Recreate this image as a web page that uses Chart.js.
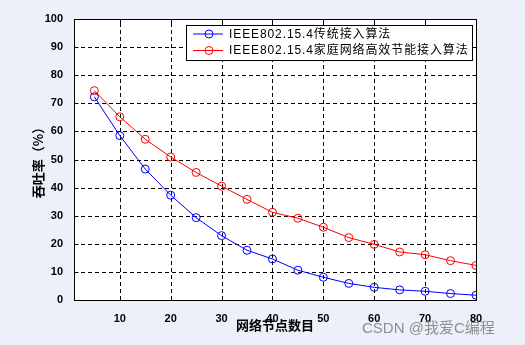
<!DOCTYPE html>
<html>
<head>
<meta charset="utf-8">
<script src="https://cdn.jsdelivr.net/npm/chart.js@4.4.1/dist/chart.umd.min.js"></script>
<style>
  html, body { margin: 0; padding: 0; background: #ECF0F8; }
  #wrap { position: relative; width: 525px; height: 345px; }
  #mark {
    position: absolute; left: 362px; top: 316px;
    font: 15px "Liberation Sans", "Noto Sans CJK SC", sans-serif;
    color: rgba(110, 110, 110, 0.75); white-space: nowrap;
  }
</style>
</head>
<body>
<div id="wrap">
  <canvas id="c" width="525" height="345"></canvas>
  <div id="mark">CSDN @我爱C编程</div>
</div>
<script>
// Number of network nodes
const nodes = [5, 10, 15, 20, 25, 30, 35, 40, 45, 50, 55, 60, 65, 70, 75, 80];
// Throughput (%) of the standard IEEE 802.15.4 access algorithm
const traditional = [72.3, 58.5, 46.6, 37.3, 29.3, 22.9, 17.7, 14.6, 10.6, 8.1, 5.9, 4.5, 3.6, 3.1, 2.3, 1.7];
// Throughput (%) of the energy-efficient home network access algorithm
const efficient = [74.5, 65.2, 57.2, 50.9, 45.4, 40.5, 35.8, 31.2, 29.1, 25.9, 22.2, 19.8, 17.1, 16.1, 14.0, 12.3];
const xTicks = [10, 20, 30, 40, 50, 60, 70, 80];
const yTicks = [0, 10, 20, 30, 40, 50, 60, 70, 80, 90, 100];
const seriesNames = ['IEEE802.15.4传统接入算法', 'IEEE802.15.4家庭网络高效节能接入算法'];

const pts = vals => nodes.map((n, i) => ({ x: n, y: vals[i] }));

// White plot area, dashed grid, box frame and inward tick marks
const frame = {
  id: 'frame',
  beforeDatasetsDraw(chart) {
    const { ctx, chartArea: a, scales } = chart;
    ctx.save();
    ctx.fillStyle = '#ffffff';
    ctx.fillRect(a.left, a.top, a.right - a.left, a.bottom - a.top);
    ctx.strokeStyle = '#000';
    ctx.lineWidth = 1;
    ctx.setLineDash([4, 3]);
    ctx.beginPath();
    scales.x.ticks.forEach(t => {
      const px = Math.round(scales.x.getPixelForValue(t.value)) + 0.5;
      ctx.moveTo(px, a.bottom); ctx.lineTo(px, a.top);
    });
    scales.y.ticks.forEach(t => {
      const py = Math.round(scales.y.getPixelForValue(t.value)) + 0.5;
      ctx.moveTo(a.left, py); ctx.lineTo(a.right, py);
    });
    ctx.stroke();
    ctx.restore();
  },
  afterDatasetsDraw(chart) {
    const { ctx, chartArea: a, scales } = chart;
    const L = Math.round(a.left) + 0.5, R = Math.round(a.right) + 0.5;
    const T = Math.round(a.top) + 0.5, B = Math.round(a.bottom) + 0.5;
    ctx.save();
    ctx.strokeStyle = '#000';
    ctx.lineWidth = 1;
    ctx.setLineDash([]);
    ctx.strokeRect(L, T, R - L, B - T);
    ctx.beginPath();
    scales.x.ticks.forEach(t => {
      const px = Math.round(scales.x.getPixelForValue(t.value)) + 0.5;
      ctx.moveTo(px, B); ctx.lineTo(px, B - 4);
      ctx.moveTo(px, T); ctx.lineTo(px, T + 4);
    });
    scales.y.ticks.forEach(t => {
      const py = Math.round(scales.y.getPixelForValue(t.value)) + 0.5;
      ctx.moveTo(L, py); ctx.lineTo(L + 4, py);
      ctx.moveTo(R, py); ctx.lineTo(R - 4, py);
    });
    ctx.stroke();
    ctx.restore();
  }
};

// Boxed legend in the upper right of the plot, line + marker samples
const boxLegend = {
  id: 'boxLegend',
  afterDraw(chart) {
    const { ctx } = chart;
    const x0 = 186.5, y0 = 25.5, w = 286, h = 35;
    ctx.save();
    ctx.fillStyle = '#fff';
    ctx.fillRect(x0, y0, w, h);
    ctx.strokeStyle = '#000';
    ctx.lineWidth = 1;
    ctx.strokeRect(x0, y0, w, h);
    chart.data.datasets.forEach((ds, i) => {
      const y = 34 + i * 16.5;
      ctx.strokeStyle = ds.borderColor;
      ctx.beginPath();
      ctx.moveTo(193, y); ctx.lineTo(223, y);
      ctx.stroke();
      ctx.beginPath();
      ctx.arc(209, y, 4, 0, Math.PI * 2);
      ctx.stroke();
      ctx.fillStyle = '#000';
      ctx.font = '12px "Liberation Sans", "Noto Sans CJK SC", sans-serif';
      if ('letterSpacing' in ctx) ctx.letterSpacing = '0.9px';
      ctx.textBaseline = 'middle';
      ctx.textAlign = 'left';
      ctx.fillText(ds.label, 229, y + 0.5);
    });
    ctx.restore();
  }
};

const tickFont = { family: '"Liberation Sans", Arial, sans-serif', size: 11, weight: 'bold' };
const titleFont = { family: '"Noto Sans CJK SC", sans-serif', size: 13, weight: 'bold' };

new Chart(document.getElementById('c'), {
  type: 'line',
  data: {
    datasets: [
      {
        label: seriesNames[0], data: pts(traditional),
        borderColor: '#0000ff', borderWidth: 1,
        pointStyle: 'circle', pointRadius: 4, pointBorderWidth: 1,
        pointBorderColor: '#0000ff', pointBackgroundColor: 'rgba(0,0,0,0)',
        tension: 0
      },
      {
        label: seriesNames[1], data: pts(efficient),
        borderColor: '#ff0000', borderWidth: 1,
        pointStyle: 'circle', pointRadius: 4, pointBorderWidth: 1,
        pointBorderColor: '#ff0000', pointBackgroundColor: 'rgba(0,0,0,0)',
        tension: 0
      }
    ]
  },
  options: {
    responsive: false,
    animation: false,
    devicePixelRatio: 1,
    layout: { padding: { top: 19, right: 49, left: 0, bottom: 0 } },
    plugins: { legend: { display: false }, tooltip: { enabled: false } },
    scales: {
      x: {
        type: 'linear', min: 1, max: 80,
        afterBuildTicks: s => { s.ticks = xTicks.map(v => ({ value: v })); },
        afterFit: s => { s.height = 45; },
        ticks: { font: tickFont, color: '#000', padding: 4, maxRotation: 0 },
        grid: { display: false },
        border: { display: false },
        title: { display: true, text: '网络节点数目', font: titleFont, color: '#000', padding: { top: 0, bottom: 12 } }
      },
      y: {
        type: 'linear', min: 0, max: 100,
        afterBuildTicks: s => { s.ticks = yTicks.map(v => ({ value: v })); },
        afterFit: s => { s.width = 74; },
        ticks: { font: tickFont, color: '#000', padding: 3 },
        grid: { display: false },
        border: { display: false },
        title: { display: true, text: '吞吐率（%）', font: titleFont, color: '#000', padding: { top: 30, bottom: 0 } }
      }
    }
  },
  plugins: [frame, boxLegend]
});
</script>
</body>
</html>
